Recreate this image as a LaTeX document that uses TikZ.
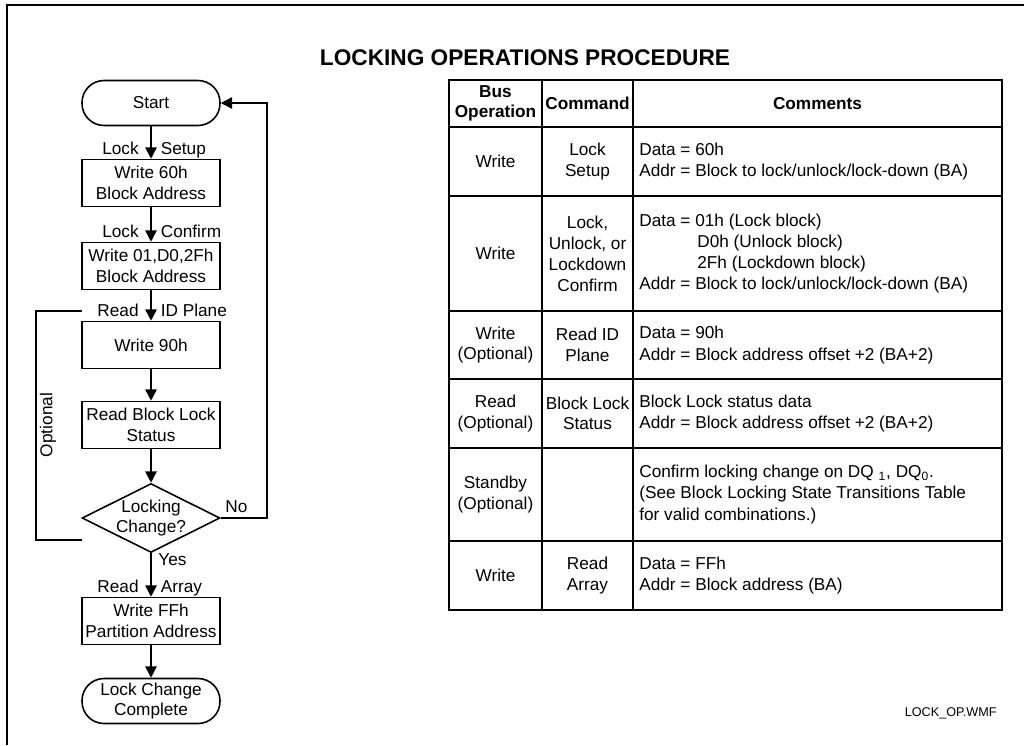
\documentclass[tikz,border=0pt]{standalone}
\usepackage{fontspec}
\setmainfont{Liberation Sans}
\usetikzlibrary{positioning,arrows.meta,shapes.geometric}

\begin{document}
\begin{tikzpicture}[x=0.02cm, y=-0.02cm,
        every node/.style={font=\fontsize{9.8}{11.6}\selectfont},
        caja/.style={rectangle, draw, line width=0.9pt, align=center, inner sep=0pt,
            minimum width=2.76cm, minimum height=0.94cm},
        cajaTerminal/.style={caja, rounded corners=0.44cm, minimum height=0.9cm},
        rombo/.style={diamond, draw, line width=0.9pt, inner sep=0pt,
            minimum width=2.76cm, minimum height=1.38cm},
        flecha/.style={-{Triangle[length=6.5pt, width=6.5pt]}, line width=0.9pt},
        linea/.style={line width=0.9pt},
        rotulo/.style={inner sep=0pt, text depth=0.2em},
        celda/.style={align=center, inner sep=0pt},
        encabezado/.style={celda, font=\fontsize{9.8}{11.2}\selectfont\bfseries},
        nota/.style={align=left, anchor=west, inner sep=0pt,
            font=\fontsize{9.8}{12}\selectfont}
    ]
        \useasboundingbox (0,0) rectangle (1024,745);
        \draw[line width=1.2pt] (7,745) -- (7,5) -- (1024,5);

        % flowchart
        \node[cajaTerminal] (inicio) at (151,103) {Start};
        \node[caja] (setup) at (151,183) {Write 60h\\Block Address};
        \node[caja] (confirma) at (151,266) {Write 01,D0,2Fh\\Block Address};
        \node[caja] (idPlane) at (151,345) {Write 90h};
        \node[caja] (estado) at (151,425) {Read Block Lock\\Status};
        \node[rombo] (cambio) at (151,518) {};
        \node[celda] (cambioTxt) at (cambio) {Locking\\Change?};
        \node[caja] (array) at (151,621) {Write FFh\\Partition Address};
        \node[cajaTerminal] (fin) at (151,701) {Lock Change\\Complete};

        \draw[flecha] (inicio) -- (setup);
        \draw[flecha] (setup) -- (confirma);
        \draw[flecha] (confirma) -- (idPlane);
        \draw[flecha] (idPlane) -- (estado);
        \draw[flecha] (estado) -- (cambio);
        \draw[flecha] (cambio) -- (array);
        \draw[flecha] (array) -- (fin);
        \draw[flecha] (cambio.east) -- ++(46,0) |- (inicio.east);

        \foreach \c/\izq/\der in {setup/Lock/Setup, confirma/Lock/Confirm, idPlane/Read/ID Plane, array/Read/Array} {
            \node[rotulo, above left=0pt and 0.24cm of \c.north] (\c-izq) {\izq};
            \node[rotulo, above right=0pt and 0.19cm of \c.north] (\c-der) {\der};
        }
        \node[rotulo, anchor=west] (no) at (225,508) {No};
        \node[rotulo, anchor=west] (si) at (158,561) {Yes};

        % optional bracket
        \coordinate (optSup) at (82,311);
        \coordinate (optInf) at (82,540);
        \draw[linea] (optSup) -- ++(-46,0) |- (optInf);
        \node[rotulo, rotate=90] (opcional) at (48,425) {Optional};

        % table
        \node[font=\fontsize{12.9}{15}\selectfont\bfseries] (titulo) at (525,58) {LOCKING OPERATIONS PROCEDURE};
        \draw[linea] (449,80) rectangle (1002,610);
        \foreach \y in {127,196,311,379,448,541}
            \draw[linea] (449,\y) -- (1002,\y);
        \foreach \x in {542,633}
            \draw[linea] (\x,80) -- (\x,610);

        \node[encabezado] (hBus) at (495.5,103.5) {Bus\\Operation};
        \node[encabezado] (hCmd) at (587.5,103.5) {Command};
        \node[encabezado] (hCom) at (817.5,103.5) {Comments};

        \node[celda] (op1) at (495.5,161.5) {Write};
        \node[celda] (cmd1) at (587.5,161.5) {Lock\\Setup};
        \node[nota] (com1) at (639,161.5) {Data = 60h\\Addr = Block to lock/unlock/lock-down (BA)};

        \node[celda] (op2) at (495.5,253.5) {Write};
        \node[celda, font=\fontsize{9.8}{12}\selectfont] (cmd2) at (587.5,253.5) {Lock,\\Unlock, or\\Lockdown\\Confirm};
        \node[nota] (com2) at (639,253.5) {Data = 01h (Lock block)\\
            \hspace*{1.16cm}D0h (Unlock block)\\
            \hspace*{1.16cm}2Fh (Lockdown block)\\
            Addr = Block to lock/unlock/lock-down (BA)};

        \node[celda] (op3) at (495.5,345) {Write\\(Optional)};
        \node[celda] (cmd3) at (587.5,345) {Read ID\\Plane};
        \node[nota] (com3) at (639,345) {Data = 90h\\Addr = Block address offset +2 (BA+2)};

        \node[celda] (op4) at (495.5,413.5) {Read\\(Optional)};
        \node[celda] (cmd4) at (587.5,413.5) {Block Lock\\Status};
        \node[nota] (com4) at (639,413.5) {Block Lock status data\\Addr = Block address offset +2 (BA+2)};

        \node[celda] (op5) at (495.5,494.5) {Standby\\(Optional)};
        \node[nota] (com5) at (639,494.5) {Confirm locking change on DQ \textsubscript{1}, DQ\textsubscript{0}.\\
            (See Block Locking State Transitions Table\\for valid combinations.)};

        \node[celda] (op6) at (495.5,575.5) {Write};
        \node[celda] (cmd6) at (587.5,575.5) {Read\\Array};
        \node[nota] (com6) at (639,575.5) {Data = FFh\\Addr = Block address (BA)};

        \node[font=\fontsize{7.2}{9}\selectfont, anchor=east, inner sep=0pt] (archivo) at (997,713) {LOCK\_OP.WMF};
    \end{tikzpicture}
\end{document}
